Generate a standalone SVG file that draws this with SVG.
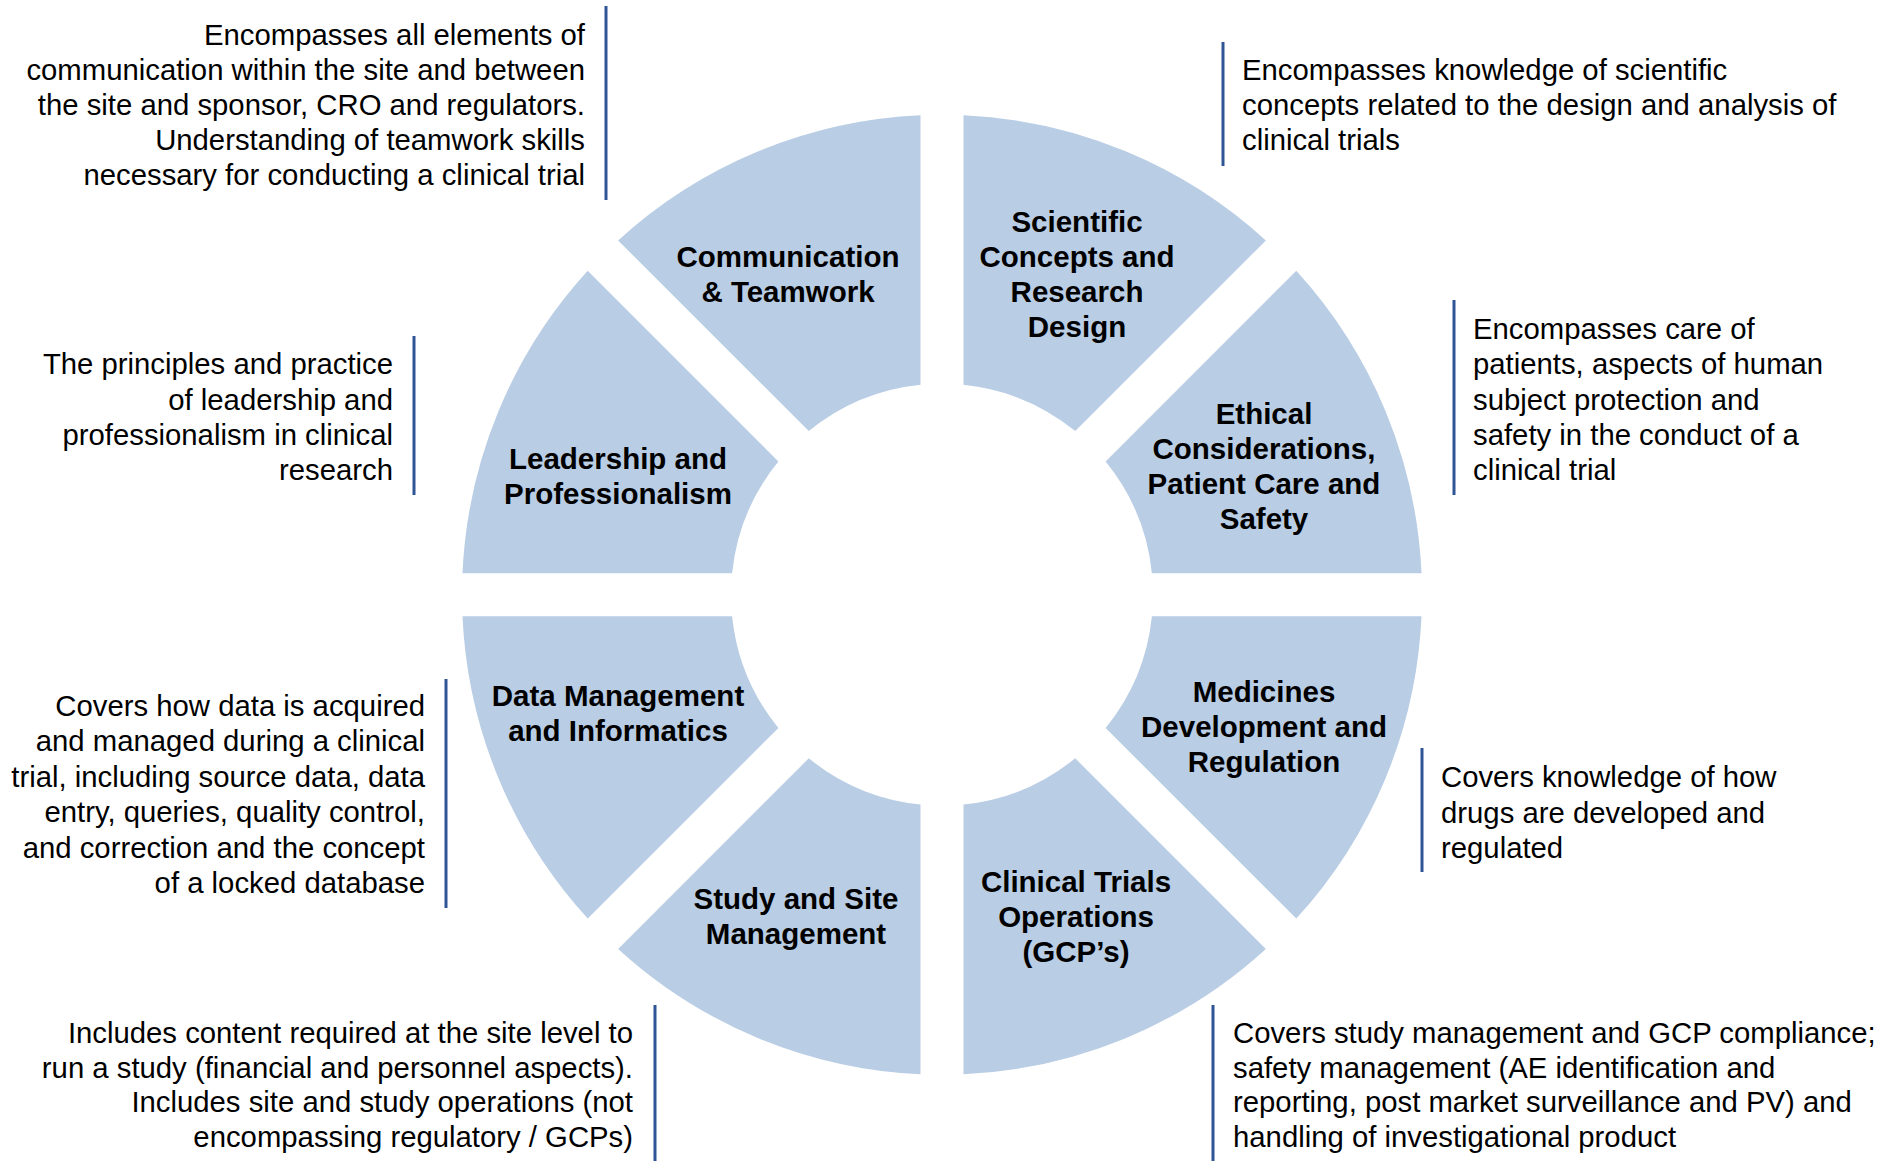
<svg xmlns="http://www.w3.org/2000/svg" width="1883" height="1161" viewBox="0 0 1883 1161">
<style>
.seg{fill:#B9CDE5;stroke:none}
.lbl{font-family:"Liberation Sans",Arial,sans-serif;font-weight:bold;font-size:29.5px;fill:#000;text-anchor:middle}
.desc{font-family:"Liberation Sans",Arial,sans-serif;font-size:29.3px;fill:#000}
.r{text-anchor:end}
.l{text-anchor:start}
.bar{stroke:#2F5597;stroke-width:3;fill:none}
</style>
<rect width="1883" height="1161" fill="#fff"/>
<g id="connectors">
<line class="bar" x1="606" y1="6" x2="606" y2="200"/>
<line class="bar" x1="1223" y1="42" x2="1223" y2="166"/>
<line class="bar" x1="414" y1="336" x2="414" y2="495"/>
<line class="bar" x1="1454" y1="300" x2="1454" y2="495"/>
<line class="bar" x1="446" y1="679" x2="446" y2="908"/>
<line class="bar" x1="1422" y1="748" x2="1422" y2="872"/>
<line class="bar" x1="655" y1="1005" x2="655" y2="1161"/>
<line class="bar" x1="1213" y1="1005" x2="1213" y2="1161"/>
</g>
<g id="scientific">
<path class="seg" d="M963.5,115.18 A480,480 0 0 1 1265.87,240.43 L1075.22,431.08 A211,211 0 0 0 963.5,384.8 Z"/>
<text class="lbl"><tspan x="1077" y="232">Scientific</tspan><tspan x="1077" y="267">Concepts and</tspan><tspan x="1077" y="302">Research</tspan><tspan x="1077" y="337">Design</tspan></text>
</g>
<g id="ethical">
<path class="seg" d="M1296.27,270.83 A480,480 0 0 1 1421.52,573.2 L1151.9,573.2 A211,211 0 0 0 1105.62,461.48 Z"/>
<text class="lbl"><tspan x="1264" y="424">Ethical</tspan><tspan x="1264" y="459">Considerations,</tspan><tspan x="1264" y="494">Patient Care and</tspan><tspan x="1264" y="529">Safety</tspan></text>
</g>
<g id="medicines">
<path class="seg" d="M1421.52,616.2 A480,480 0 0 1 1296.27,918.57 L1105.62,727.92 A211,211 0 0 0 1151.9,616.2 Z"/>
<text class="lbl"><tspan x="1264" y="702">Medicines</tspan><tspan x="1264" y="737">Development and</tspan><tspan x="1264" y="772">Regulation</tspan></text>
</g>
<g id="clinical">
<path class="seg" d="M1265.87,948.97 A480,480 0 0 1 963.5,1074.22 L963.5,804.6 A211,211 0 0 0 1075.22,758.32 Z"/>
<text class="lbl"><tspan x="1076" y="892">Clinical Trials</tspan><tspan x="1076" y="927">Operations</tspan><tspan x="1076" y="962">(GCP’s)</tspan></text>
</g>
<g id="study">
<path class="seg" d="M920.5,1074.22 A480,480 0 0 1 618.13,948.97 L808.78,758.32 A211,211 0 0 0 920.5,804.6 Z"/>
<text class="lbl"><tspan x="796" y="909">Study and Site</tspan><tspan x="796" y="944">Management</tspan></text>
</g>
<g id="data">
<path class="seg" d="M587.73,918.57 A480,480 0 0 1 462.48,616.2 L732.1,616.2 A211,211 0 0 0 778.38,727.92 Z"/>
<text class="lbl"><tspan x="618" y="706">Data Management</tspan><tspan x="618" y="741">and Informatics</tspan></text>
</g>
<g id="leadership">
<path class="seg" d="M462.48,573.2 A480,480 0 0 1 587.73,270.83 L778.38,461.48 A211,211 0 0 0 732.1,573.2 Z"/>
<text class="lbl"><tspan x="618" y="469">Leadership and</tspan><tspan x="618" y="504">Professionalism</tspan></text>
</g>
<g id="communication">
<path class="seg" d="M618.13,240.43 A480,480 0 0 1 920.5,115.18 L920.5,384.8 A211,211 0 0 0 808.78,431.08 Z"/>
<text class="lbl"><tspan x="788" y="267">Communication</tspan><tspan x="788" y="302">&amp; Teamwork</tspan></text>
</g>
<g id="desc-communication">
<text class="desc r"><tspan x="585" y="45">Encompasses all elements of</tspan><tspan x="585" y="80">communication within the site and between</tspan><tspan x="585" y="115">the site and sponsor, CRO and regulators.</tspan><tspan x="585" y="150">Understanding of teamwork skills</tspan><tspan x="585" y="185">necessary for conducting a clinical trial</tspan></text>
</g>
<g id="desc-scientific">
<text class="desc l"><tspan x="1242" y="80">Encompasses knowledge of scientific</tspan><tspan x="1242" y="115">concepts related to the design and analysis of</tspan><tspan x="1242" y="150">clinical trials</tspan></text>
</g>
<g id="desc-leadership">
<text class="desc r"><tspan x="393" y="374">The principles and practice</tspan><tspan x="393" y="410">of leadership and</tspan><tspan x="393" y="445">professionalism in clinical</tspan><tspan x="393" y="480">research</tspan></text>
</g>
<g id="desc-ethical">
<text class="desc l"><tspan x="1473" y="339">Encompasses care of</tspan><tspan x="1473" y="374">patients, aspects of human</tspan><tspan x="1473" y="410">subject protection and</tspan><tspan x="1473" y="445">safety in the conduct of a</tspan><tspan x="1473" y="480">clinical trial</tspan></text>
</g>
<g id="desc-data">
<text class="desc r"><tspan x="425" y="716">Covers how data is acquired</tspan><tspan x="425" y="751">and managed during a clinical</tspan><tspan x="425" y="787">trial, including source data, data</tspan><tspan x="425" y="822">entry, queries, quality control,</tspan><tspan x="425" y="858">and correction and the concept</tspan><tspan x="425" y="893">of a locked database</tspan></text>
</g>
<g id="desc-medicines">
<text class="desc l"><tspan x="1441" y="787">Covers knowledge of how</tspan><tspan x="1441" y="823">drugs are developed and</tspan><tspan x="1441" y="858">regulated</tspan></text>
</g>
<g id="desc-study">
<text class="desc r"><tspan x="633" y="1043">Includes content required at the site level to</tspan><tspan x="633" y="1078">run a study (financial and personnel aspects).</tspan><tspan x="633" y="1112">Includes site and study operations (not</tspan><tspan x="633" y="1147">encompassing regulatory / GCPs)</tspan></text>
</g>
<g id="desc-clinical">
<text class="desc l"><tspan x="1233" y="1043">Covers study management and GCP compliance;</tspan><tspan x="1233" y="1078">safety management (AE identification and</tspan><tspan x="1233" y="1112">reporting, post market surveillance and PV) and</tspan><tspan x="1233" y="1147">handling of investigational product</tspan></text>
</g>
</svg>
